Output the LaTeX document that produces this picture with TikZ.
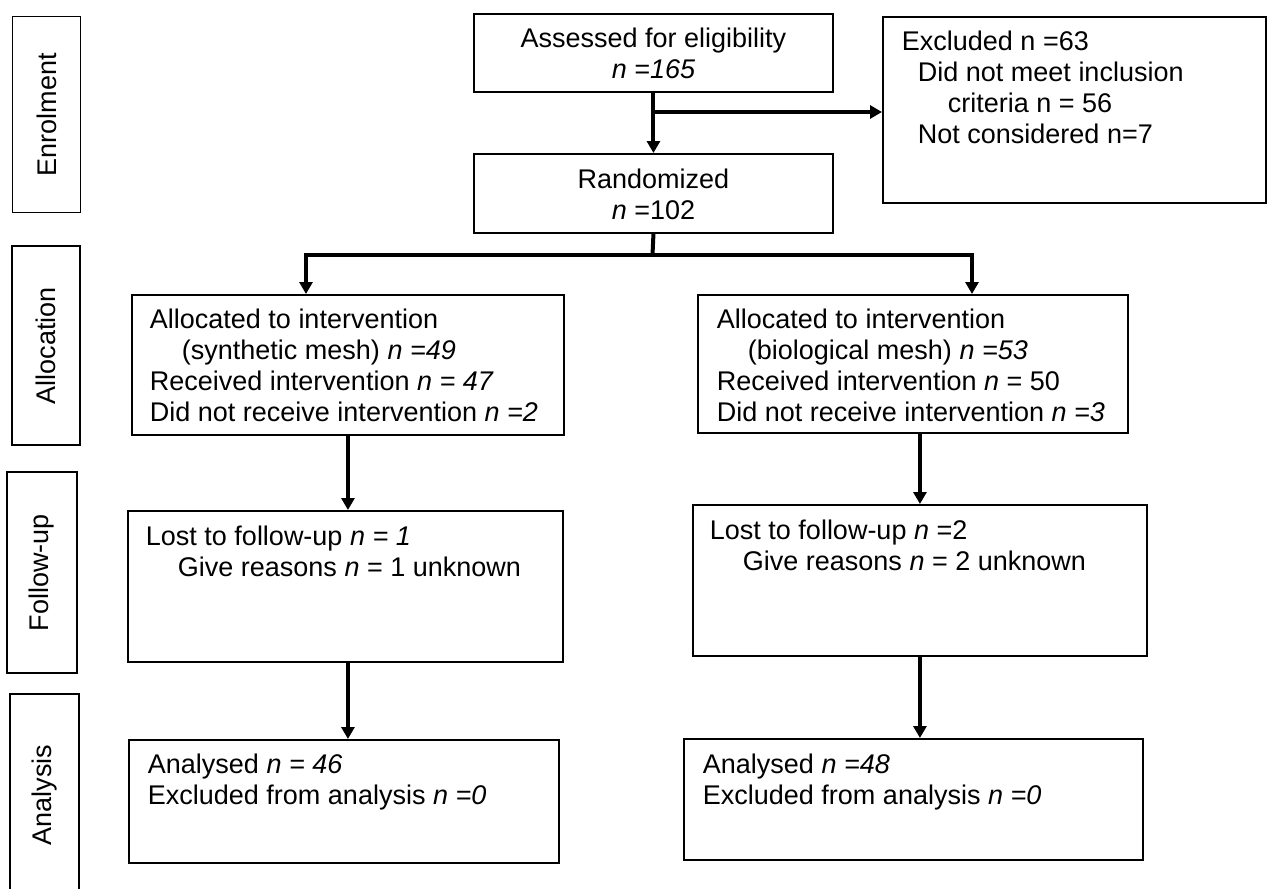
\documentclass[tikz,border=0pt]{standalone}
\usepackage{fontspec}
\setmainfont{Liberation Sans}
\usetikzlibrary{arrows.meta}
\newcommand\bxt[4]{\begin{minipage}[t][#2pt][t]{#1pt}\vspace*{#3pt}#4\end{minipage}}
\newcommand\bline[2]{\hspace*{#1pt}\strut #2}
\begin{document}
\begin{tikzpicture}[x=1pt,y=-1pt,
  box/.style={draw, line width=1.9pt, inner sep=0pt, anchor=north west, font=\fontsize{27}{31}\selectfont},
  stage/.style={draw, line width=1.9pt, rotate=90, inner sep=0pt, font=\fontsize{27}{31}\selectfont},
  conn/.style={line width=4pt},
  arr/.style={conn, -{Triangle[width=13pt,length=12pt]}}]
\path[use as bounding box] (0,0) rectangle (1267,889);
\clip (0,0) rectangle (1267,889);

% stage labels
\node[stage, minimum width=196pt, minimum height=68pt] (enrol) at (46.5,114.5) {Enrolment};
\node[stage, minimum width=199pt, minimum height=68pt] (alloclab) at (46,345.5) {Allocation};
\node[stage, minimum width=201pt, minimum height=70pt] (fulab) at (42,572.5) {Follow-up};
\node[stage, minimum width=202pt, minimum height=69pt] (anlab) at (44.5,795) {Analysis};

% boxes
\node[box] (assess) at (473,13) {\bxt{359}{78}{12.3}{\centering\strut Assessed for eligibility\\\strut\textit{n =165}}};
\node[box] (random) at (473,153) {\bxt{359}{79}{13.3}{\centering\strut Randomized\\\strut\textit{n} =102}};
\node[box] (excl) at (882,16) {\bxt{383}{186}{12.3}{\bline{19}{Excluded n =63}\\\bline{35}{Did not meet inclusion}\\\bline{65}{criteria n = 56}\\\bline{35}{Not considered n=7}}};

\node[box] (alloc1) at (131,294) {\bxt{432}{140}{11.8}{\bline{18}{Allocated to intervention}\\\bline{50}{(synthetic mesh) \textit{n =49}}\\\bline{18}{Received intervention \textit{n = 47}}\\\bline{18}{Did not receive intervention \textit{n =2}}}};
\node[box] (alloc2) at (697,294) {\bxt{430}{138}{11.8}{\bline{19}{Allocated to intervention}\\\bline{50}{(biological mesh) \textit{n =53}}\\\bline{19}{Received intervention \textit{n} = 50}\\\bline{19}{Did not receive intervention \textit{n =3}}}};

\node[box] (fu1) at (127,510) {\bxt{435}{151}{13.3}{\bline{18}{Lost to follow-up \textit{n = 1}}\\\bline{50}{Give reasons \textit{n} = 1 unknown}}};
\node[box] (fu2) at (692,504) {\bxt{454}{151}{13.3}{\bline{17}{Lost to follow-up \textit{n} =2}\\\bline{50}{Give reasons \textit{n} = 2 unknown}}};

\node[box] (an1) at (128,739) {\bxt{430}{123}{12.3}{\bline{19}{Analysed \textit{n = 46}}\\\bline{19}{Excluded from analysis \textit{n =0}}}};
\node[box] (an2) at (683,738) {\bxt{459}{121}{13.3}{\bline{19}{Analysed \textit{n =48}}\\\bline{19}{Excluded from analysis \textit{n =0}}}};

% connectors
\draw[arr] (assess.south) -- (random.north);
\coordinate (br) at (652.5,112);
\draw[arr] (br) -- (br -| excl.west);
\coordinate (split) at (652.5,255);
\coordinate (sl) at (306,255);
\coordinate (sr) at (972,255);
\draw[conn] (random.south) -- (split);
\draw[arr] (split) -| (sl |- alloc1.north);
\draw[arr] (split) -| (sr |- alloc2.north);
\draw[arr] (alloc1.south) -- (alloc1.south |- fu1.north);
\draw[arr] (fu2.north |- alloc2.south) -- (fu2.north);
\draw[arr] (alloc1.south |- fu1.south) -- (alloc1.south |- an1.north);
\draw[arr] (fu2.south) -- (fu2.south |- an2.north);
\end{tikzpicture}
\end{document}
